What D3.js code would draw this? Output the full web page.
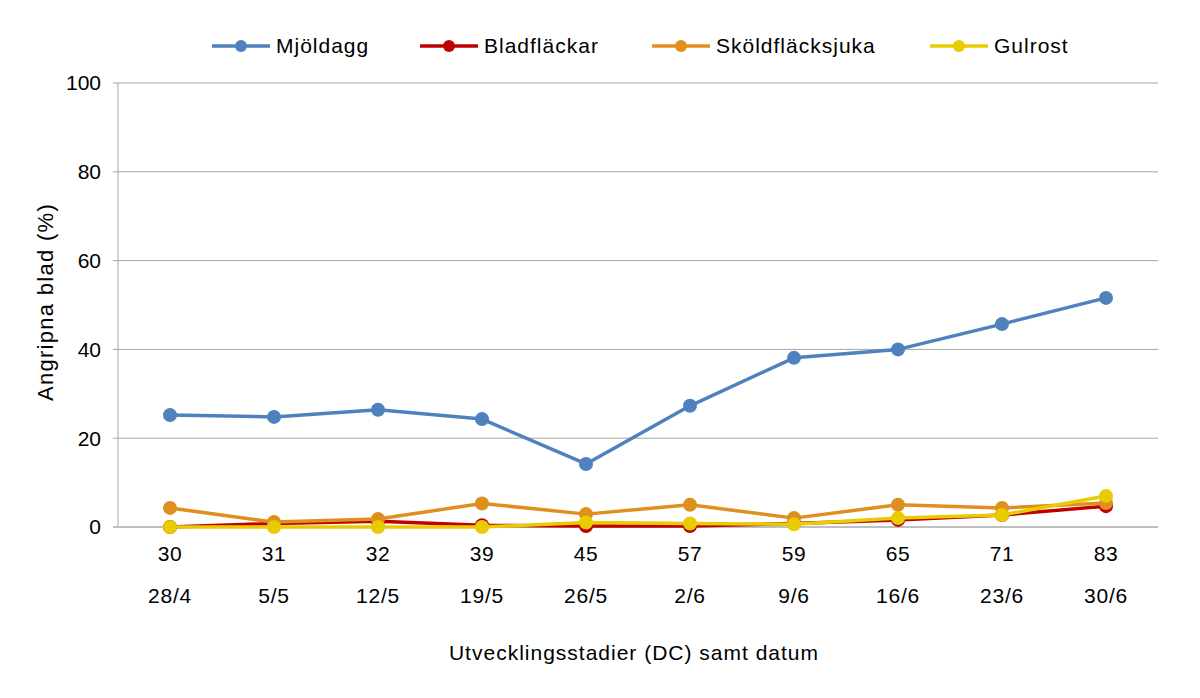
<!DOCTYPE html>
<html>
<head>
<meta charset="utf-8">
<script src="https://cdn.jsdelivr.net/npm/d3@7"></script>
<style>
  body { margin: 0; background: #fff; }
  svg { font-family: "Liberation Sans", Arial, sans-serif; }
</style>
</head>
<body>
<svg id="chart"></svg>
<script>
// Angripna blad per utvecklingsstadium

var width = 1200,
    height = 698;

var m = [83, 42, 171, 118],   // top, right, bottom, left
    w = width - m[1] - m[3],
    h = height - m[0] - m[2];

var stages = ["30", "31", "32", "39", "45", "57", "59", "65", "71", "83"];
var dates = ["28/4", "5/5", "12/5", "19/5", "26/5", "2/6", "9/6", "16/6", "23/6", "30/6"];

var mjoldagg = [25.2, 24.8, 26.4, 24.3, 14.2, 27.3, 38.1, 40.0, 45.7, 51.6];
var bladflackar = [0.0, 0.8, 1.3, 0.4, 0.2, 0.2, 0.8, 1.6, 2.7, 4.7];
var skoldflacksjuka = [4.3, 1.1, 1.8, 5.3, 2.9, 5.0, 2.0, 5.0, 4.3, 5.4];
var gulrost = [0.0, 0.0, 0.0, 0.0, 1.0, 0.8, 0.6, 2.0, 2.7, 7.0];

var yTicks = [0, 20, 40, 60, 80, 100];

var series = [
  { name: "Mjöldagg", values: mjoldagg, color: "#4f81bd" },
  { name: "Bladfläckar", values: bladflackar, color: "#c00000" },
  { name: "Sköldfläcksjuka", values: skoldflacksjuka, color: "#df8f1e" },
  { name: "Gulrost", values: gulrost, color: "#e8cb00" }
];

var svg = d3.select("#chart")
    .attr("width", width)
    .attr("height", height);

var g = svg.append("g")
    .attr("transform", `translate(${m[3]},${m[0]})`);

var xscale = d3.scaleBand().domain(stages).range([0, w]);
var yscale = d3.scaleLinear().domain([0, 100]).range([h, 0]);

// gridlines
g.selectAll(".grid")
    .data(yTicks.filter(function(d) { return d > 0; }))
    .enter().append("line")
    .attr("x1", -5).attr("x2", w)
    .attr("y1", function(d) { return yscale(d); })
    .attr("y2", function(d) { return yscale(d); })
    .attr("stroke", "#a6a6a6")
    .attr("stroke-width", 1);

// y axis line
g.append("line")
    .attr("x1", 0).attr("x2", 0)
    .attr("y1", 0).attr("y2", h)
    .attr("stroke", "#a6a6a6");

// baseline
g.append("line")
    .attr("x1", -5).attr("x2", w)
    .attr("y1", h).attr("y2", h)
    .attr("stroke", "#bfbfbf")
    .attr("stroke-width", 2);

// y tick labels
g.selectAll(".ylab")
    .data(yTicks)
    .enter().append("text")
    .attr("x", -17)
    .attr("y", function(d) { return yscale(d); })
    .attr("dy", "0.35em")
    .attr("text-anchor", "end")
    .attr("font-size", 21)
    .text(String);

// x tick labels: stage and date
g.selectAll(".xlab")
    .data(stages)
    .enter().append("text")
    .attr("x", function(d) { return xscale(d) + xscale.bandwidth() / 2; })
    .attr("y", h + 34)
    .attr("text-anchor", "middle")
    .attr("font-size", 21)
    .attr("letter-spacing", 0.5)
    .text(String);

g.selectAll(".dlab")
    .data(dates)
    .enter().append("text")
    .attr("x", function(d, i) { return xscale(stages[i]) + xscale.bandwidth() / 2; })
    .attr("y", h + 76)
    .attr("text-anchor", "middle")
    .attr("font-size", 21)
    .attr("letter-spacing", 0.8)
    .text(String);

// axis titles
svg.append("text")
    .attr("transform", `translate(53,${m[0] + h / 2 - 3}) rotate(-90)`)
    .attr("text-anchor", "middle")
    .attr("font-size", 22)
    .attr("letter-spacing", 1.3)
    .text("Angripna blad (%)");

svg.append("text")
    .attr("x", m[3] + w / 2 - 4)
    .attr("y", 660)
    .attr("text-anchor", "middle")
    .attr("font-size", 21)
    .attr("letter-spacing", 1)
    .text("Utvecklingsstadier (DC) samt datum");

// lines and markers
var line = d3.line()
    .x(function(d, i) { return xscale(stages[i]) + xscale.bandwidth() / 2; })
    .y(function(d) { return yscale(d); });

series.forEach(function(s) {
  var sg = g.append("g");
  sg.append("path")
    .attr("d", line(s.values))
    .attr("fill", "none")
    .attr("stroke", s.color)
    .attr("stroke-width", 3.5)
    .attr("stroke-linejoin", "round");
  sg.selectAll("circle")
    .data(s.values)
    .enter().append("circle")
    .attr("cx", function(d, i) { return xscale(stages[i]) + xscale.bandwidth() / 2; })
    .attr("cy", function(d) { return yscale(d); })
    .attr("r", 7)
    .attr("fill", s.color);
});

// legend
var legendX = [212, 420, 652, 930];
var legend = svg.selectAll(".legend")
    .data(series)
    .enter().append("g")
    .attr("transform", function(d, i) { return `translate(${legendX[i]},46)`; });

legend.append("line")
    .attr("x1", 0).attr("x2", 58)
    .attr("stroke", function(d) { return d.color; })
    .attr("stroke-width", 3.5);

legend.append("circle")
    .attr("cx", 29).attr("r", 6)
    .attr("fill", function(d) { return d.color; });

legend.append("text")
    .attr("x", 64)
    .attr("dy", "0.35em")
    .attr("font-size", 21)
    .attr("letter-spacing", 1)
    .text(function(d) { return d.name; });
</script>
</body>
</html>
